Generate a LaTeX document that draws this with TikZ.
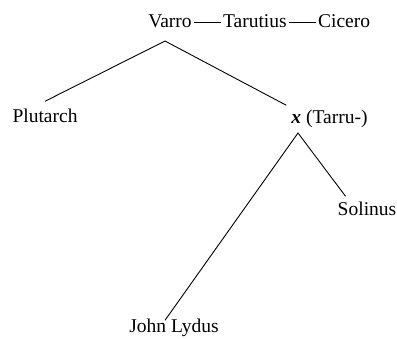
\documentclass[tikz,border=0pt]{standalone}
\usepackage{fontspec}
\setmainfont{Liberation Serif}
\usetikzlibrary{positioning}
\begin{document}
\fontsize{19.5}{23}\selectfont
\begin{tikzpicture}[x=1pt,y=-1pt,
    author/.style={font=\fontsize{19.5}{23}\selectfont, anchor=base, inner sep=2pt},
    link/.style={line width=0.9pt}]
  \useasboundingbox (0,0) rectangle (397,338);
  % Le tre fonti in alto
  \node[author] (varro) at (170,27) {Varro};
  \node[author, base right=27pt of varro] (tarut) {Tarutius};
  \node[author, base right=27pt of tarut] (cicero) {Cicero};
  \draw[link] (varro.mid east) -- (tarut.mid west);
  \draw[link] (tarut.mid east) -- (cicero.mid west);
  % Primo ramo: Plutarch e x
  \coordinate (vtop) at (165,41);
  \node[author] (plut) at (45,122) {Plutarch};
  \node[author] (xsig) at (329.5,123) {\textbf{\textit{x}} (Tarru-)};
  \draw[link] ([yshift=5pt]plut.north) -- (vtop) -- ([xshift=-3pt,yshift=2pt]xsig.north west);
  % Secondo ramo: Solinus e John Lydus
  \coordinate (xfoot) at (298,133);
  \node[author] (solinus) at (367,215) {Solinus};
  \node[author] (lydus) at (174,332) {John Lydus};
  \draw[link] ([xshift=-9pt,yshift=-4pt]lydus.north) -- (xfoot) -- ([xshift=10pt,yshift=3pt]solinus.north west);
\end{tikzpicture}
\end{document}
